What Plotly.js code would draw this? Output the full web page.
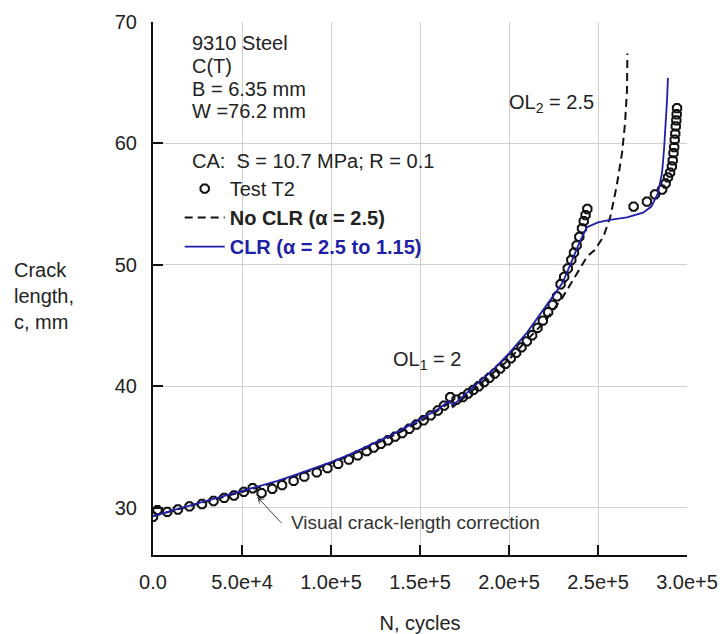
<!DOCTYPE html>
<html>
<head>
<meta charset="utf-8">
<script src="https://cdn.plot.ly/plotly-3.0.1.min.js"></script>
<style>html,body{margin:0;padding:0;background:#fff;}#chart{width:724px;height:634px;}</style>
</head>
<body>
<div id="chart"></div>
<script>
// ---- data ----
var testN = [0, 2500, 8000, 14000, 20500, 27500, 34000, 40000, 45500, 51000, 56000, 61000, 67000, 72500, 79000, 85000, 92000, 98000, 104000, 110000, 115000, 120000, 124000, 128000, 132000, 136000, 140000, 144000, 148000, 152000, 156000, 160000, 163500, 167000, 170500, 174000, 177000, 180000, 183000, 186000, 189000, 192000, 195000, 198000, 201000, 204000, 207000, 210000, 213000, 216000, 219000, 222000, 224500, 227000, 229000, 231000, 233000, 235000, 236500, 238000, 239500, 241000, 242000, 243000, 244000, 270000, 277500, 282000, 286000, 288000, 289300, 290500, 291500, 292000, 292400, 292800, 293100, 293400, 293700, 294000, 294200, 294400];
var testC = [29.25, 29.8, 29.65, 29.85, 30.1, 30.3, 30.55, 30.8, 31.0, 31.3, 31.6, 31.2, 31.55, 31.85, 32.2, 32.55, 32.9, 33.25, 33.6, 33.95, 34.3, 34.65, 34.95, 35.25, 35.55, 35.85, 36.15, 36.5, 36.85, 37.2, 37.6, 38.0, 38.4, 39.1, 38.9, 39.1, 39.4, 39.7, 40.0, 40.35, 40.7, 41.05, 41.45, 41.85, 42.3, 42.75, 43.2, 43.7, 44.2, 44.8, 45.4, 46.1, 46.7, 47.4, 48.4, 49.0, 49.7, 50.4, 51.0, 51.6, 52.3, 53.0, 53.6, 54.1, 54.6, 54.8, 55.2, 55.8, 56.2, 56.7, 57.2, 57.6, 58.1, 58.6, 59.2, 59.7, 60.3, 60.8, 61.4, 61.9, 62.4, 62.9];

var noClrN = [0, 20000, 40000, 60000, 80000, 100000, 120000, 140000, 155000, 165000, 167000, 168500, 171000, 180000, 190000, 200000, 210000, 220000, 230000, 238000, 244000, 248000, 253000, 257000, 260500, 263500, 265200, 266300, 266500];
var noClrC = [29.3, 30.1, 30.9, 31.7, 32.6, 33.65, 34.9, 36.3, 37.5, 38.5, 38.8, 38.3, 38.6, 39.7, 40.9, 42.2, 43.8, 45.3, 47.3, 49.3, 50.7, 51.2, 52.3, 54.0, 56.5, 59.2, 61.7, 64.4, 67.4];

var clrN = [0, 10000, 20000, 30000, 40000, 50000, 60000, 70000, 80000, 90000, 100000, 110000, 120000, 130000, 140000, 150000, 160000, 166000, 168500, 171000, 175000, 180000, 190000, 200000, 210000, 220000, 230000, 235000, 240000, 243800, 250000, 256700, 266300, 275300, 280000, 283700, 286000, 287100, 288200, 288800, 289300];
var clrC = [29.3, 29.75, 30.15, 30.55, 30.95, 31.35, 31.75, 32.2, 32.7, 33.2, 33.75, 34.35, 35.0, 35.7, 36.45, 37.25, 38.1, 38.75, 38.5, 38.75, 39.3, 39.95, 41.2, 42.7, 44.4, 46.4, 48.5, 50.2, 52.0, 53.1, 53.5, 53.7, 53.9, 54.3, 54.8, 55.9, 57.6, 59.5, 61.7, 63.6, 65.4];

var xTicks = [0, 50000, 100000, 150000, 200000, 250000, 300000];
var xTickLabels = ['0.0', '5.0e+4', '1.0e+5', '1.5e+5', '2.0e+5', '2.5e+5', '3.0e+5'];
var yTicks = [30, 40, 50, 60, 70];
var yTickLabels = ['30', '40', '50', '60', '70'];

var seriesNames = ['Test T2', '<b>No CLR (α = 2.5)</b>', '<b><span style="color:#1f1fa8">CLR (α = 2.5 to 1.15)</span></b>'];

// ---- chart ----
var FONT = 'Liberation Sans, Arial, sans-serif';
var TXT = '#222222';
var BLUE = '#1f1fa8';

var traces = [
  {x: testN, y: testC, name: seriesNames[0], type: 'scatter', mode: 'markers',
   marker: {symbol: 'octagon-open', size: 9, color: '#111', line: {width: 2, color: '#111'}}},
  {x: noClrN, y: noClrC, name: seriesNames[1], type: 'scatter', mode: 'lines',
   line: {color: '#111', width: 2, dash: '8px,5px'}},
  {x: clrN, y: clrC, name: seriesNames[2], type: 'scatter', mode: 'lines',
   line: {color: BLUE, width: 1.8}}
];

var layout = {
  width: 724, height: 634,
  margin: {l: 153, r: 37, t: 22, b: 79},
  paper_bgcolor: '#fff', plot_bgcolor: '#fff',
  font: {family: FONT, size: 20, color: TXT},
  showlegend: true,
  legend: {x: 0.05, y: 0.724, xanchor: 'left', yanchor: 'top', bgcolor: 'rgba(0,0,0,0)',
           borderwidth: 0, font: {family: FONT, size: 20, color: TXT}, itemwidth: 40, tracegroupgap: 0},
  xaxis: {range: [0, 300000], tickvals: xTicks, ticktext: xTickLabels,
          ticks: 'inside', ticklen: 10, tickwidth: 2, tickcolor: '#111',
          showline: true, linecolor: '#111', linewidth: 2, zeroline: false,
          showgrid: true, gridcolor: '#d0d0d0', gridwidth: 1,
          tickfont: {family: FONT, size: 20, color: TXT}, ticklabelstandoff: 8,
          title: {text: 'N, cycles', font: {family: FONT, size: 20, color: TXT}, standoff: 24}},
  yaxis: {range: [26.1, 70], tickvals: yTicks, ticktext: yTickLabels,
          ticks: 'inside', ticklen: 10, tickwidth: 2, tickcolor: '#111',
          showline: true, linecolor: '#111', linewidth: 2, zeroline: false,
          showgrid: true, gridcolor: '#d0d0d0', gridwidth: 1,
          tickfont: {family: FONT, size: 20, color: TXT}, ticklabelstandoff: 10},
  annotations: [
    {xref: 'paper', yref: 'paper', x: 0.0693, y: 0.9606, xanchor: 'left', yanchor: 'middle', showarrow: false, text: '9310 Steel'},
    {xref: 'paper', yref: 'paper', x: 0.0693, y: 0.9174, xanchor: 'left', yanchor: 'middle', showarrow: false, text: 'C(T)'},
    {xref: 'paper', yref: 'paper', x: 0.0693, y: 0.8743, xanchor: 'left', yanchor: 'middle', showarrow: false, text: 'B = 6.35 mm'},
    {xref: 'paper', yref: 'paper', x: 0.0693, y: 0.8330, xanchor: 'left', yanchor: 'middle', showarrow: false, text: 'W =76.2 mm'},
    {xref: 'paper', yref: 'paper', x: 0.0693, y: 0.7392, xanchor: 'left', yanchor: 'middle', showarrow: false, text: 'CA:  S = 10.7 MPa; R = 0.1'},
    {xref: 'x', yref: 'y', x: 154000, y: 42.1, showarrow: false, text: 'OL<sub>1</sub> = 2'},
    {xref: 'x', yref: 'y', x: 223600, y: 63.3, showarrow: false, text: 'OL<sub>2</sub> = 2.5'},
    {xref: 'x', yref: 'y', x: 76400, y: 28.77, xanchor: 'left', yanchor: 'middle', showarrow: false,
     text: 'Visual crack-length correction', font: {size: 19, color: '#333'}},
    {xref: 'x', yref: 'y', x: 58500, y: 30.9, axref: 'x', ayref: 'y', ax: 73000, ay: 28.6,
     text: '', showarrow: true, arrowhead: 3, arrowsize: 1.3, arrowwidth: 1, arrowcolor: '#444'},
    {xref: 'paper', yref: 'paper', x: -0.2640, y: 0.486, xanchor: 'left', yanchor: 'middle', align: 'left',
     showarrow: false, text: 'Crack<br>length,<br>c, mm'}
  ]
};

Plotly.newPlot('chart', traces, layout, {displayModeBar: false, staticPlot: true});
</script>
</body>
</html>
